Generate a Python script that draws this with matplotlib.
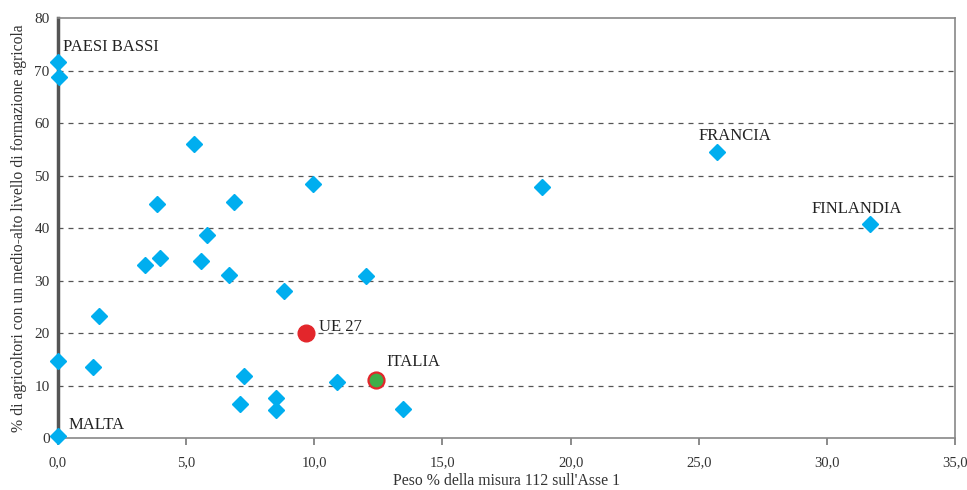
import matplotlib.pyplot as plt
from matplotlib.ticker import FuncFormatter

plt.rcParams['font.family'] = ['Liberation Serif', 'DejaVu Serif']

# Stati membri (diamanti azzurri)
peso_112 = [0.0, 0.05, 0.0, 0.0, 1.37, 1.6, 3.39, 3.98, 3.86, 5.31, 5.58, 5.81,
            6.67, 6.87, 7.1, 7.26, 8.5, 8.5, 8.8, 9.95, 10.9, 12.0, 13.46,
            18.9, 25.7, 31.7]
formazione = [71.6, 68.8, 14.7, 0.4, 13.5, 23.2, 33.0, 34.3, 44.6, 56.0, 33.7, 38.7,
              31.0, 45.0, 6.5, 11.8, 7.6, 5.3, 28.0, 48.4, 10.7, 30.9, 5.5,
              47.8, 54.5, 40.8]

ue27 = (9.68, 20.0)
italia = (12.4, 11.0)

etichette = ['PAESI BASSI', 'MALTA', 'FRANCIA', 'FINLANDIA', 'UE 27', 'ITALIA']
etich_x = [0.2, 0.4, 25.0, 29.4, 10.2, 12.8]
etich_y = [72.9, 0.9, 56.0, 42.2, 19.7, 13.0]

x_ticks = [0, 5, 10, 15, 20, 25, 30, 35]
y_ticks = [0, 10, 20, 30, 40, 50, 60, 70, 80]

fig = plt.figure(figsize=(9.67, 4.9), dpi=100)
ax = fig.add_axes([0.06, 0.106, 0.9276, 0.857])

ax.plot(peso_112, formazione, linestyle='none', marker='D', markersize=8.5,
        color='#00AEEF', clip_on=False, zorder=3)
ax.plot(*ue27, marker='o', markersize=12, color='#E3262B', linestyle='none',
        clip_on=False, zorder=4)
ax.plot(*italia, marker='o', markersize=11.5, markerfacecolor='#3DAE49',
        markeredgecolor='#E3262B', markeredgewidth=1.6, linestyle='none', zorder=4)

for t, tx, ty in zip(etichette, etich_x, etich_y):
    ax.text(tx, ty, t, fontsize=12, color='#222222', ha='left', va='bottom')

ax.set_xlim(0, 35)
ax.set_ylim(0, 80)
ax.set_xticks(x_ticks)
ax.set_yticks(y_ticks)
ax.xaxis.set_major_formatter(FuncFormatter(lambda v, p: ('%.1f' % v).replace('.', ',')))
ax.yaxis.set_major_formatter(FuncFormatter(lambda v, p: '%d' % v))

for y in y_ticks[1:-1]:
    ax.axhline(y, color='#555555', linestyle=(0, (4, 4)), linewidth=0.9, zorder=1)

ax.spines['left'].set_color('#555555')
ax.spines['left'].set_linewidth(2.5)
for s in ['top', 'right', 'bottom']:
    ax.spines[s].set_color('#888888')
    ax.spines[s].set_linewidth(1.2)

ax.tick_params(axis='x', direction='out', length=5, width=1.2, color='#777777',
               labelsize=10.5, labelcolor='#333333', pad=8)
ax.tick_params(axis='y', length=0, labelsize=11, labelcolor='#333333', pad=6)

ax.set_xlabel("Peso % della misura 112 sull'Asse 1", fontsize=11.3, color='#333333', labelpad=3)
ax.set_ylabel('% di agricoltori con un medio-alto livello di formazione agricola',
              fontsize=11.3, color='#333333', labelpad=5)

fig.savefig('out.png', dpi=100)
